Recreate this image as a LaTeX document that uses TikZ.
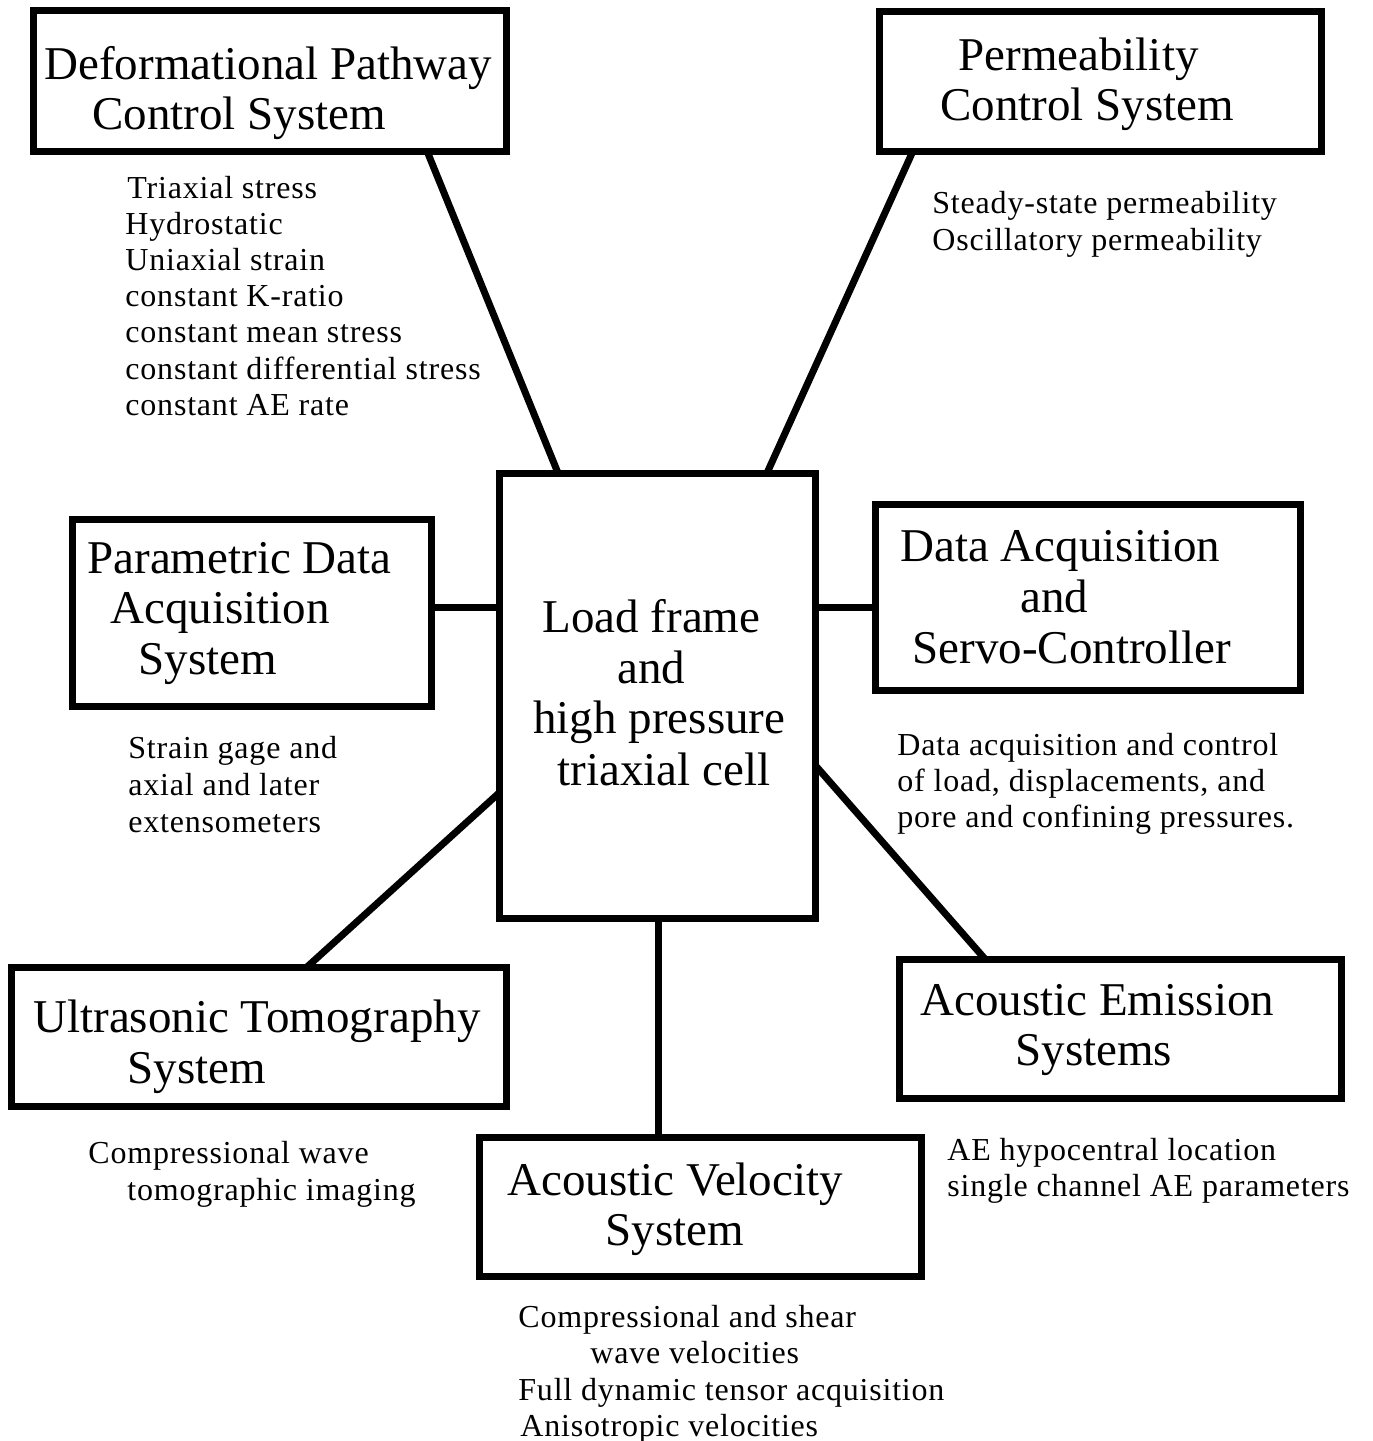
\documentclass[tikz,border=0pt]{standalone}
\usepackage{fontspec}
\setmainfont{Liberation Serif}
\newfontfamily\spacedserif[LetterSpace=2.5]{Liberation Serif}
\begin{document}
\begin{tikzpicture}[x=0.5pt,y=-0.5pt,
  box/.style={draw=black,line width=3.5pt,rectangle,inner sep=0pt,outer sep=0pt},
  conn/.style={draw=black,line width=3.5pt},
  big/.style={anchor=base west,inner sep=0pt,font=\fontsize{23.5}{25.3}\selectfont},
  small/.style={anchor=base west,inner sep=0pt,font=\spacedserif\fontsize{16}{18.1}\selectfont}]
\useasboundingbox[fill=white] (0,0) rectangle (1372,1441);
% boxes
\node[box,minimum width=236.5pt,minimum height=70.5pt] (def) at (270,80.5) {};
\node[box,minimum width=221pt,minimum height=70pt] (perm) at (1100,81) {};
\node[box,minimum width=179.5pt,minimum height=93.5pt] (param) at (251.5,612.5) {};
\node[box,minimum width=158pt,minimum height=222.5pt] (cell) at (657,695.5) {};
\node[box,minimum width=212.5pt,minimum height=93pt] (da) at (1087.5,597) {};
\node[box,minimum width=247.5pt,minimum height=69.5pt] (ultra) at (258.5,1036.5) {};
\node[box,minimum width=221pt,minimum height=69.5pt] (ae) at (1120,1028.5) {};
\node[box,minimum width=221pt,minimum height=69.5pt] (vel) at (700,1206.5) {};
% connectors
\draw[conn] (def.south -| 427,0) -- (cell.north -| 558,0);
\draw[conn] (perm.south -| 913,0) -- (cell.north -| 767,0);
\draw[conn] (param.east |- 0,607) -- (cell.west |- 0,607);
\draw[conn] (cell.east |- 0,607) -- (da.west |- 0,607);
\draw[conn] (ultra.north -| 307,0) -- (cell.west |- 0,793);
\draw[conn] (cell.east |- 0,765) -- (ae.north -| 985,0);
\draw[conn] (cell.south -| 658,0) -- (vel.north -| 658,0);
% box titles
\node[big] (def1) at (44,79) {Deformational Pathway};
\node[big] (def2) at (92,129) {Control System};
\node[big] (perm1) at (958,70) {Permeability};
\node[big] (perm2) at (940,120) {Control System};
\node[big] (param1) at (87,573) {Parametric Data};
\node[big] (param2) at (110,623) {Acquisition};
\node[big] (param3) at (138,674) {System};
\node[big] (cell1) at (542,632) {Load frame};
\node[big] (cell2) at (617,683) {and};
\node[big] (cell3) at (533,733) {high pressure};
\node[big] (cell4) at (557,785) {triaxial cell};
\node[big] (da1) at (900,561) {Data Acquisition};
\node[big] (da2) at (1020,612) {and};
\node[big] (da3) at (912,663) {Servo-Controller};
\node[big] (ultra1) at (33,1032) {Ultrasonic Tomography};
\node[big] (ultra2) at (127,1083) {System};
\node[big] (ae1) at (920,1015) {Acoustic Emission};
\node[big] (ae2) at (1015,1065) {Systems};
\node[big] (vel1) at (507,1195) {Acoustic Velocity};
\node[big] (vel2) at (605,1245) {System};
% descriptions
\node[small] (t1) at (127,198) {Triaxial stress};
\node[small] (t2) at (125,234.2) {Hydrostatic};
\node[small] (t3) at (125,270.4) {Uniaxial strain};
\node[small] (t4) at (125,306.6) {constant K-ratio};
\node[small] (t5) at (125,342.8) {constant mean stress};
\node[small] (t6) at (125,379) {constant differential stress};
\node[small] (t7) at (125,415.2) {constant AE rate};
\node[small] (p1) at (932,213) {Steady-state permeability};
\node[small] (p2) at (932,250) {Oscillatory permeability};
\node[small] (s1) at (128,758) {Strain gage and};
\node[small] (s2) at (128,795) {axial and later};
\node[small] (s3) at (128,832) {extensometers};
\node[small] (d1) at (897,755) {Data acquisition and control};
\node[small] (d2) at (897,791) {of load, displacements, and};
\node[small] (d3) at (897,827) {pore and confining pressures.};
\node[small] (u1) at (88,1163) {Compressional wave};
\node[small] (u2) at (127,1200) {tomographic imaging};
\node[small] (a1) at (947,1160) {AE hypocentral location};
\node[small] (a2) at (947,1196) {single channel AE parameters};
\node[small] (v1) at (518,1327) {Compressional and shear};
\node[small] (v2) at (590,1363) {wave velocities};
\node[small] (v3) at (518,1400) {Full dynamic tensor acquisition};
\node[small] (v4) at (520,1436) {Anisotropic velocities};
\end{tikzpicture}
\end{document}
